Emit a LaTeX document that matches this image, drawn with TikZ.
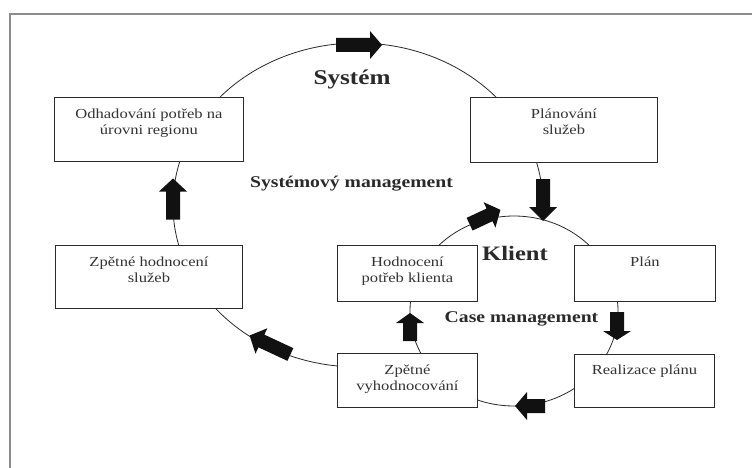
\documentclass[tikz,border=0pt]{standalone}
\usepackage{fontspec}
\setmainfont[FakeStretch=1.2]{Liberation Serif}
\usetikzlibrary{positioning}
\definecolor{linec}{HTML}{2A2A2A}
\definecolor{textc}{HTML}{333333}
\definecolor{framec}{HTML}{8C8C8C}
\definecolor{arrowc}{HTML}{111111}
\newcommand\blockarr[5]{%
  \fill[arrowc, shift={(#1,#2)}, rotate=#3]
    ({-#4/2},-7) -- ({#4/2-#5},-7) -- ({#4/2-#5},-14) -- ({#4/2},0) --
    ({#4/2-#5},14) -- ({#4/2-#5},7) -- ({-#4/2},7) -- cycle;}
\tikzset{
  box/.style={draw=linec, fill=white, line width=0.9pt, inner sep=0pt, anchor=north west},
  boxtext/.style={anchor=north, align=center, inner sep=0pt, text=textc,
    font=\fontsize{13.8}{16}\selectfont},
  connector/.style={draw=linec, line width=0.8pt},
  bigtitle/.style={anchor=base, inner sep=0pt, text=linec, font=\fontsize{21}{24}\selectfont\bfseries},
  midtitle/.style={anchor=base, inner sep=0pt, text=linec, font=\fontsize{16.4}{19}\selectfont\bfseries},
}
\begin{document}
\begin{tikzpicture}[x=1pt, y=-1pt]
\useasboundingbox (0,0) rectangle (752,468);
\fill[white] (0,0) rectangle (752,468);
% frame
\draw[framec, line width=1.5pt] (10,468) -- (10,14) -- (752,14);
% cycles
\coordinate (bigc) at (358,205);
\coordinate (smallc) at (514,311);
\draw[connector] (bigc) ++(95:185 and 162) arc[start angle=95, end angle=362, x radius=185, y radius=162];
\draw[connector] (smallc) ellipse[x radius=104, y radius=95];
% boxes
\node[box, minimum width=189, minimum height=64] (odh) at (54,97) {};
\node[box, minimum width=187, minimum height=65] (plsl) at (470,97) {};
\node[box, minimum width=187, minimum height=63] (zhs) at (55,245) {};
\node[box, minimum width=140, minimum height=56] (hpk) at (337,245) {};
\node[box, minimum width=141, minimum height=56] (plan) at (574,245) {};
\node[box, minimum width=140, minimum height=54] (zv) at (337,353) {};
\node[box, minimum width=140, minimum height=53] (rp) at (574,354) {};
% box texts
\node[boxtext, below=12pt of odh.north] (odht) {Odhadování potřeb na\\úrovni regionu};
\node[boxtext, below=12pt of plsl.north] (plslt) {Plánování\\služeb};
\node[boxtext, below=12pt of zhs.north] (zhst) {Zpětné hodnocení\\služeb};
\node[boxtext, below=12pt of hpk.north] (hpkt) {Hodnocení\\potřeb klienta};
\node[boxtext, below=12pt of plan.north] (plant) {Plán};
\node[boxtext, below=11.5pt of zv.north] (zvt) {Zpětné\\vyhodnocování};
\node[boxtext, below=10.5pt of rp.north] (rpt) {Realizace plánu};
% arrows
\blockarr{359}{45}{0}{46}{12}
\blockarr{173}{199}{90}{41}{13}
\blockarr{543}{200}{-90}{42}{14}
\blockarr{270}{345}{155}{45}{13}
\blockarr{485}{217}{25}{34}{12}
\blockarr{530}{406}{180}{30}{12}
\blockarr{410}{327}{90}{28}{10}
\blockarr{617}{326}{-90}{28}{9}
% titles
\node[bigtitle] (sys) at (352,85) {Systém};
\node[midtitle] (sysm) at (351.5,187) {Systémový management};
\node[bigtitle, font=\fontsize{20.5}{24}\selectfont\bfseries] (kl) at (515,260) {Klient};
\node[midtitle] (cm) at (521.5,322) {Case management};
\end{tikzpicture}
\end{document}
